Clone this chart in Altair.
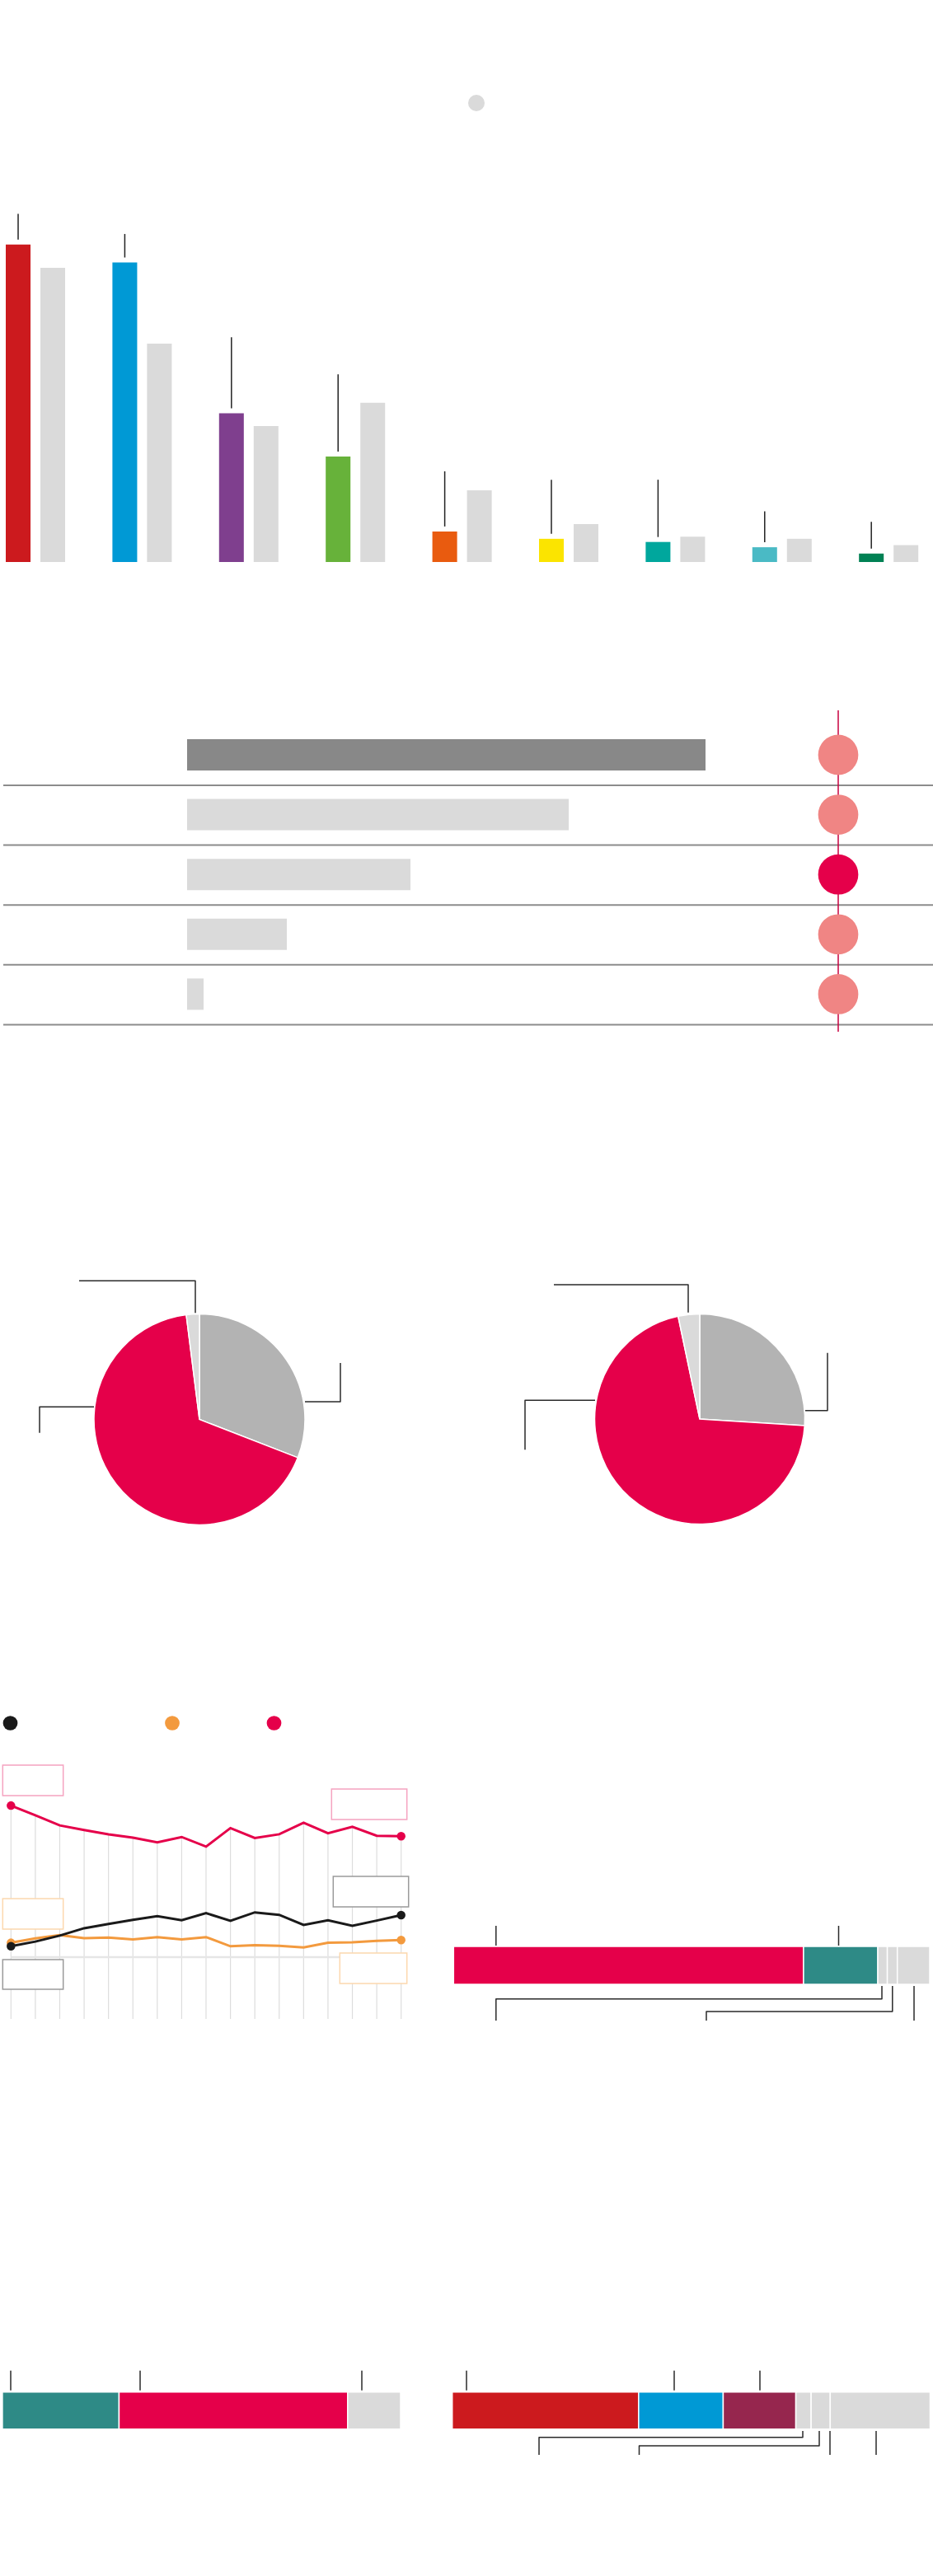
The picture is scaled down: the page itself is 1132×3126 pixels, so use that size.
import altair as alt
import pandas as pd

# ---------------- data ----------------
# Block 1: vote share by party (current vs previous election)
parties = ["P1", "P2", "P3", "P4", "P5", "P6", "P7", "P8", "P9"]
party_colors = ["#CC1A1E", "#0099D5", "#7F3F8E", "#67B23A", "#E95B0F",
                "#FBE400", "#00A79D", "#4ABAC5", "#008154"]
share_now = [30.1, 28.4, 14.1, 10.0, 2.9, 2.2, 1.9, 1.4, 0.8]
share_prev = [27.9, 20.7, 12.9, 15.1, 6.8, 3.6, 2.4, 2.2, 1.6]
label_level = [33.0, 31.1, 21.3, 17.8, 8.6, 7.8, 7.8, 4.8, 3.8]

# Block 2: five rows with a marker column
rows = ["R1", "R2", "R3", "R4", "R5"]
row_values = [62.9, 46.3, 27.1, 12.1, 2.0]
row_bar_colors = ["#888888", "#DADADA", "#DADADA", "#DADADA", "#DADADA"]
row_highlight = ["no", "no", "yes", "no", "no"]

# Block 3: two pies
pie_slices = ["S1", "S2", "S3"]
pie_colors = ["#B3B3B3", "#E5004A", "#DADADA"]
pie1_shares = [30.9, 67.1, 2.0]
pie2_shares = [26.0, 70.7, 3.3]

# Block 4: three series over 17 periods
periods = list(range(1, 18))
series_red = [86.3, 82.4, 78.3, 76.4, 74.7, 73.3, 71.4, 73.6, 69.7,
              77.2, 73.2, 74.7, 79.4, 75.1, 77.7, 74.1, 73.9]
series_black = [29.4, 31.3, 33.7, 36.7, 38.4, 40.1, 41.6, 39.9, 42.8,
                39.7, 43.1, 42.1, 38.0, 39.9, 37.7, 39.8, 42.0]
series_orange = [30.8, 32.6, 33.9, 32.7, 32.9, 32.2, 33.1, 32.2, 33.1,
                 29.4, 29.8, 29.6, 28.9, 30.8, 31.0, 31.6, 31.9]
reference_level = 25

# Block 5: stacked bars
stackA_parts = ["A1", "A2", "A3", "A4", "A5"]
stackA_values = [73.5, 15.6, 2.0, 2.1, 6.8]
stackA_colors = ["#E5004A", "#2E8A86", "#DADADA", "#DADADA", "#DADADA"]

stackB_parts = ["B1", "B2", "B3"]
stackB_values = [29.3, 57.4, 13.3]
stackB_colors = ["#2E8A86", "#E5004A", "#DADADA"]

stackC_parts = ["C1", "C2", "C3", "C4", "C5", "C6"]
stackC_values = [39.0, 17.7, 15.2, 3.2, 4.0, 20.9]
stackC_colors = ["#CC1A1E", "#0099D5", "#96264E", "#DADADA", "#DADADA", "#DADADA"]

# annotation leader paths (decorations for the missing labels)
leader_paths = [
    [(96, 1554.3), (237, 1554.3), (237, 1593.3)],
    [(370, 1701), (413, 1701), (413, 1654)],
    [(114, 1707.3), (48, 1707.3), (48, 1738.7)],
    [(672, 1559), (835, 1559), (835, 1592.7)],
    [(977, 1711.7), (1004, 1711.7), (1004, 1641.7)],
    [(722, 1699.3), (637, 1699.3), (637, 1759.3)],
    [(601.8, 2337), (601.8, 2361)],
    [(1017.5, 2337), (1017.5, 2361)],
    [(1070, 2410), (1070, 2425.7), (601.8, 2425.7), (601.8, 2452)],
    [(1082.8, 2410), (1082.8, 2441), (857, 2441), (857, 2452)],
    [(1109, 2410), (1109, 2452)],
    [(13, 2876.7), (13, 2900.7)],
    [(170, 2876.7), (170, 2900.7)],
    [(439, 2876.7), (439, 2900.7)],
    [(566, 2876.7), (566, 2900.7)],
    [(818, 2876.7), (818, 2900.7)],
    [(922, 2876.7), (922, 2900.7)],
    [(974, 2950), (974, 2957.7), (654, 2957.7), (654, 2979)],
    [(994, 2950), (994, 2968), (775.5, 2968), (775.5, 2979)],
    [(1007, 2950), (1007, 2979)],
    [(1063, 2950), (1063, 2979)],
]

one = pd.DataFrame({"k": [0]})
layers = []

# ---------------- block 1 ----------------
layers.append(alt.Chart(one).mark_circle(color="#DADADA", size=400, opacity=1)
              .encode(x=alt.value(578), y=alt.value(125)))

df1 = pd.DataFrame({"party": parties, "now": share_now, "prev": share_prev,
                    "label": label_level})
y1 = alt.Scale(domain=[0, 35], range=[682, 234], nice=False, zero=True)
xc = alt.Scale(type="band", domain=parties, range=[7, 1072.2],
               paddingInner=0.768, paddingOuter=0)
xg = alt.Scale(type="band", domain=parties, range=[49, 1114.2],
               paddingInner=0.768, paddingOuter=0)

layers.append(alt.Chart(df1).mark_bar().encode(
    x=alt.X("party:N", scale=xc, axis=None),
    y=alt.Y("now:Q", scale=y1, axis=None),
    color=alt.Color("party:N", scale=alt.Scale(domain=parties, range=party_colors), legend=None)))
layers.append(alt.Chart(df1).mark_bar(color="#DADADA").encode(
    x=alt.X("party:N", scale=xg, axis=None),
    y=alt.Y("prev:Q", scale=y1, axis=None)))
layers.append(alt.Chart(df1).mark_rule(color="#222222", strokeWidth=1.5, yOffset=-6).encode(
    x=alt.X("party:N", scale=xc, axis=None, bandPosition=0.5),
    y=alt.Y("now:Q", scale=y1, axis=None),
    y2="label:Q"))

# ---------------- block 2 ----------------
df2 = pd.DataFrame({"row": rows, "value": row_values, "hl": row_highlight})
yr = alt.Scale(type="band", domain=rows, range=[897, 1225.4], paddingInner=0.4766, paddingOuter=0)
yr_sep = alt.Scale(type="band", domain=rows, range=[953, 1281.4], paddingInner=0.4766, paddingOuter=0)
xr = alt.Scale(domain=[0, 100], range=[227, 1227], nice=False)

layers.append(alt.Chart(df2).mark_bar().encode(
    y=alt.Y("row:N", scale=yr, axis=None),
    x=alt.X("value:Q", scale=xr, axis=None),
    color=alt.Color("row:N", scale=alt.Scale(domain=rows, range=row_bar_colors), legend=None)))
layers.append(alt.Chart(df2).mark_rule(color="#8C8C8C", strokeWidth=2).encode(
    y=alt.Y("row:N", scale=yr_sep, axis=None, bandPosition=0),
    x=alt.value(4), x2=alt.value(1132)))
layers.append(alt.Chart(one).mark_rule(color="#C8003F", strokeWidth=1.5).encode(
    x=alt.value(1017), y=alt.value(862), y2=alt.value(1252)))
layers.append(alt.Chart(df2).mark_circle(size=2376, opacity=1).encode(
    y=alt.Y("row:N", scale=yr, axis=None, bandPosition=0.5),
    x=alt.value(1017),
    color=alt.Color("hl:N", scale=alt.Scale(domain=["no", "yes"], range=["#F08584", "#E5004A"]), legend=None)))

# ---------------- block 3 ----------------
def pie(shares, cx, cy, r):
    df = pd.DataFrame({"slice": pie_slices, "share": shares, "i": range(len(shares))})
    return alt.Chart(df).mark_arc(radius=r, stroke="white", strokeWidth=1.5).encode(
        theta=alt.Theta("share:Q", stack=True),
        color=alt.Color("slice:N", scale=alt.Scale(domain=pie_slices, range=pie_colors), legend=None),
        order=alt.Order("i:Q"),
        x=alt.value(cx), y=alt.value(cy))

layers.append(pie(pie1_shares, 242, 1722.5, 128))
layers.append(pie(pie2_shares, 849, 1722, 127.5))

# ---------------- block 4 ----------------
xl = alt.Scale(domain=[1, 17], range=[13.3, 486.7], nice=False, zero=False)
yl = alt.Scale(domain=[0, 100], range=[2450, 2150], nice=False)
df_red = pd.DataFrame({"period": periods, "value": series_red})
df_black = pd.DataFrame({"period": periods, "value": series_black})
df_orange = pd.DataFrame({"period": periods, "value": series_orange})

layers.append(alt.Chart(df_red).mark_rule(color="#DDDDDD", strokeWidth=1.2).encode(
    x=alt.X("period:Q", scale=xl, axis=None),
    y=alt.Y("value:Q", scale=yl, axis=None),
    y2=alt.datum(0)))
df_ref = pd.DataFrame({"p0": [periods[0]], "p1": [periods[-1]], "v": [reference_level]})
layers.append(alt.Chart(df_ref).mark_rule(color="#E6E6E6", strokeWidth=2.5).encode(
    x=alt.X("p0:Q", scale=xl, axis=None), x2="p1:Q",
    y=alt.Y("v:Q", scale=yl, axis=None)))

boxes = [
    (3.3, 76.7, 2142, 2179, "#F5A3C0"),
    (402.3, 493.7, 2171, 2208, "#F5A3C0"),
    (404.3, 495.7, 2277, 2314, "#9A9A9A"),
    (3.3, 76.7, 2304, 2341, "#FCD8AE"),
    (3.3, 76.7, 2378, 2414, "#9A9A9A"),
    (412.3, 493.7, 2370, 2407, "#FCD8AE"),
]
for bx0, bx1, by0, by1, bc in boxes:
    layers.append(alt.Chart(one).mark_rect(fill="white", stroke=bc, strokeWidth=1.5).encode(
        x=alt.value(bx0), x2=alt.value(bx1), y=alt.value(by0), y2=alt.value(by1)))

for dfs, col in [(df_orange, "#F39A3E"), (df_black, "#1A1A1A"), (df_red, "#E5004A")]:
    layers.append(alt.Chart(dfs).mark_line(color=col, strokeWidth=3).encode(
        x=alt.X("period:Q", scale=xl, axis=None),
        y=alt.Y("value:Q", scale=yl, axis=None)))
    ends = dfs[dfs["period"].isin([periods[0], periods[-1]])]
    layers.append(alt.Chart(ends).mark_circle(color=col, size=110, opacity=1).encode(
        x=alt.X("period:Q", scale=xl, axis=None),
        y=alt.Y("value:Q", scale=yl, axis=None)))

for lx, lc in [(12.5, "#1A1A1A"), (209, "#F39A3E"), (332.5, "#E5004A")]:
    layers.append(alt.Chart(one).mark_circle(color=lc, size=314, opacity=1).encode(
        x=alt.value(lx), y=alt.value(2091)))

# ---------------- block 5 ----------------
def stacked(parts, values, colors, x0, x1, ytop, ybot):
    df = pd.DataFrame({"part": parts, "value": values, "i": list(range(len(parts)))})
    sc = alt.Scale(domain=[0, sum(values)], range=[x0, x1], nice=False, zero=False)
    return alt.Chart(df).transform_window(
        cum="sum(value)", sort=[alt.SortField("i")], frame=[None, 0]
    ).transform_calculate(
        start="datum.cum - datum.value"
    ).mark_bar(stroke="white", strokeWidth=1.5).encode(
        x=alt.X("start:Q", scale=sc, axis=None),
        x2="cum:Q",
        y=alt.value(ytop), y2=alt.value(ybot),
        color=alt.Color("part:N", scale=alt.Scale(domain=parts, range=colors), legend=None))

layers.append(stacked(stackA_parts, stackA_values, stackA_colors, 550.3, 1128, 2362, 2408))
layers.append(stacked(stackB_parts, stackB_values, stackB_colors, 2.9, 486, 2902.7, 2947.7))
layers.append(stacked(stackC_parts, stackC_values, stackC_colors, 548.7, 1128.5, 2902.7, 2947.7))

# leader lines
recs = []
for pid, path in enumerate(leader_paths):
    for i, (px, py) in enumerate(path):
        recs.append({"path": pid, "i": i, "x": px, "y": py})
df_lead = pd.DataFrame(recs)
layers.append(alt.Chart(df_lead).mark_line(color="#2A2A2A", strokeWidth=1.5, strokeJoin="round").encode(
    x=alt.X("x:Q", scale=None, axis=None),
    y=alt.Y("y:Q", scale=None, axis=None),
    detail="path:N",
    order="i:Q"))

chart = alt.layer(*layers).resolve_scale(
    x="independent", y="independent", color="independent",
    theta="independent", size="independent"
).properties(
    width=1132, height=3126,
    autosize=alt.AutoSizeParams(type="none"),
    padding=0,
    background="white",
).configure_view(stroke=None)

chart.save("out.html", embed_options={"renderer": "svg", "actions": False})
